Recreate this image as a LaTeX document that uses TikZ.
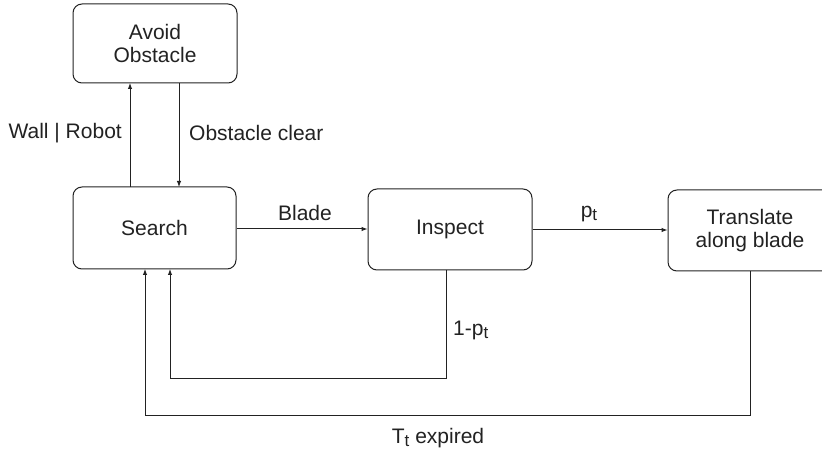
\documentclass[tikz,border=0pt]{standalone}
\usepackage{fontspec}
\setmainfont{Liberation Sans}
\usetikzlibrary{arrows.meta}
\definecolor{ink}{HTML}{222222}
\newcommand{\sub}[1]{\raisebox{-0.3ex}{\fontsize{17}{17}\selectfont #1}}
\begin{document}
\begin{tikzpicture}[x=1pt,y=-1pt,
  state/.style={draw=ink, line width=1pt, rounded corners=9pt, text=ink,
    align=center, font=\fontsize{21}{22.5}\selectfont, inner sep=0pt},
  lbl/.style={text=ink, font=\fontsize{21}{22.5}\selectfont, inner sep=0pt},
  flow/.style={draw=ink, line width=1pt, -{Latex[length=6pt,width=4.5pt]}}]
\clip (0,0) rectangle (822,454);
\fill[white] (0,0) rectangle (822,454);

% states
\node[state, minimum width=164pt, minimum height=79pt] (avoid) at (155,43.5) {Avoid\\Obstacle};
\node[state, minimum width=163pt, minimum height=82pt] (search) at (154.5,228) {Search};
\node[state, minimum width=164pt, minimum height=81pt] (inspect) at (450,229.5) {Inspect};
\node[state, minimum width=164pt, minimum height=81pt] (trans) at (750,230.5) {Translate\\along blade};

% anchor points for the connectors
\coordinate (sU) at (130,187);
\coordinate (aU) at (130,83);
\coordinate (aD) at (179,83);
\coordinate (sD) at (179,187);
\coordinate (iB) at (446,270);
\coordinate (tB) at (750,271);
\coordinate (sB1) at (170,269);
\coordinate (sB2) at (145,269);

% transitions
\draw[flow] (sU) -- (aU);
\draw[flow] (aD) -- (sD);
\draw[flow] (search.east |- 0,229) -- (inspect.west |- 0,229);
\draw[flow] (inspect.east |- 0,230) -- (trans.west |- 0,230);
\draw[flow] (iB) -- (446,378) -- (170,378) -- (sB1);
\draw[flow] (tB) -- (750,415) -- (145,415) -- (sB2);

% transition labels
\node[lbl, anchor=east] (l1) at (122,133) {Wall | Robot};
\node[lbl, anchor=west] (l2) at (189,133) {Obstacle clear};
\node[lbl] (l3) at (305,213) {Blade};
\node[lbl] (l4) at (589,214) {p\sub{t}};
\node[lbl, anchor=west] (l5) at (453,330) {1-p\sub{t}};
\node[lbl] (l6) at (438,438) {T\sub{t} expired};
\end{tikzpicture}
\end{document}
